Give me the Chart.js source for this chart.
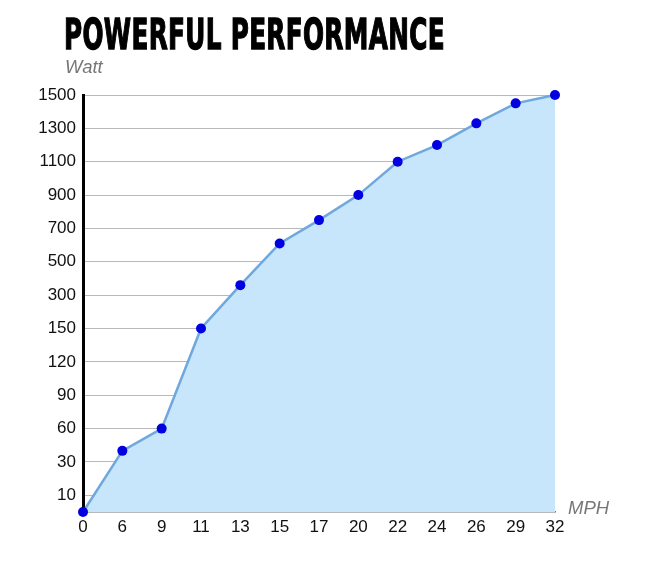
<!DOCTYPE html>
<html lang="en">
<head>
    <meta charset="UTF-8" />
    <title>Powerful Performance</title>
    <script src="https://cdn.jsdelivr.net/npm/chart.js"></script>
    <style>
        body { margin: 0; background: #fff; }
        .wrap { position: relative; width: 650px; height: 581px; }
        #grafico { position: absolute; left: 0; top: 0; }
        .titulo {
            position: absolute; left: 64px; top: 10px; margin: 0;
            font-family: "Liberation Sans Narrow", "DejaVu Sans Condensed", sans-serif;
            font-weight: bold; font-size: 42px; color: #000; white-space: nowrap;
            transform-origin: left top; letter-spacing: 0.5px;
            -webkit-text-stroke: 1.3px #000;
        }
        .eixo {
            position: absolute; margin: 0; font-family: "Liberation Sans", Arial, sans-serif;
            font-style: italic; font-size: 18.5px; color: #777;
        }
    </style>
</head>
<body>
    <div class="wrap">
        <canvas id="grafico" width="650" height="581"></canvas>
        <h1 class="titulo" id="titulo">POWERFUL PERFORMANCE</h1>
        <p class="eixo" style="left:65px; top:56px;">Watt</p>
        <p class="eixo" style="left:568px; top:497px;">MPH</p>
    </div>

<script>
    // velocidade (MPH) no eixo x
    const mph = ['0', '6', '9', '11', '13', '15', '17', '20', '22', '24', '26', '29', '32'];
    // potencia (Watt)
    const watt = [0, 40, 60, 150, 360, 610, 750, 900, 1100, 1200, 1330, 1450, 1500];
    // marcas do eixo y (espacadas igualmente, escala nao linear)
    const wattTicks = [10, 30, 60, 90, 120, 150, 300, 500, 700, 900, 1100, 1300, 1500];

    // ajusta a largura do titulo condensado
    const tit = document.getElementById('titulo');
    tit.style.transform = 'scaleX(' + (381 / tit.offsetWidth) + ')';

    // converte watt para a posicao no eixo (interpolacao entre as marcas)
    function posicao(v) {
        let i = 0;
        while (i < wattTicks.length - 2 && v > wattTicks[i + 1]) i++;
        const a = wattTicks[i], b = wattTicks[i + 1];
        return i + (v - a) / (b - a);
    }

    const ctx = document.getElementById('grafico');
    new Chart(ctx, {
        type: 'line',
        data: {
            labels: mph,
            datasets: [
                {
                    label: 'Watt',
                    data: watt.map(posicao),
                    fill: 'start',
                    backgroundColor: 'rgb(199,229,251)',
                    borderColor: 'rgb(111,168,220)',
                    borderWidth: 2.5,
                    tension: 0,
                    pointRadius: 5,
                    pointBackgroundColor: 'rgb(0,0,225)',
                    pointBorderColor: 'rgb(0,0,225)',
                    pointBorderWidth: 0,
                    clip: false
                }
            ]
        },
        options: {
            responsive: false,
            animation: false,
            layout: { padding: { left: 0, right: 95, top: 95, bottom: 30 } },
            plugins: { legend: { display: false }, tooltip: { enabled: false } },
            scales: {
                x: {
                    offset: false,
                    grid: { display: false, drawTicks: false },
                    border: { color: '#777', width: 1.5 },
                    ticks: {
                        color: '#111', padding: 5, maxRotation: 0, autoSkip: false,
                        font: { family: 'Liberation Sans', size: 17 }
                    },
                    afterFit: (s) => { s.height = 39; }
                },
                y: {
                    min: -0.5,
                    max: 12,
                    grid: { color: '#b9b9b9', lineWidth: 1, drawTicks: false },
                    border: { color: '#000', width: 3 },
                    ticks: {
                        color: '#111', padding: 7,
                        font: { family: 'Liberation Sans', size: 17 },
                        callback: (v) => wattTicks[v]
                    },
                    afterBuildTicks: (s) => { s.ticks = wattTicks.map((t, i) => ({ value: i })); },
                    afterFit: (s) => { s.width = 83; }
                }
            }
        }
    });
</script>
</body>
</html>
